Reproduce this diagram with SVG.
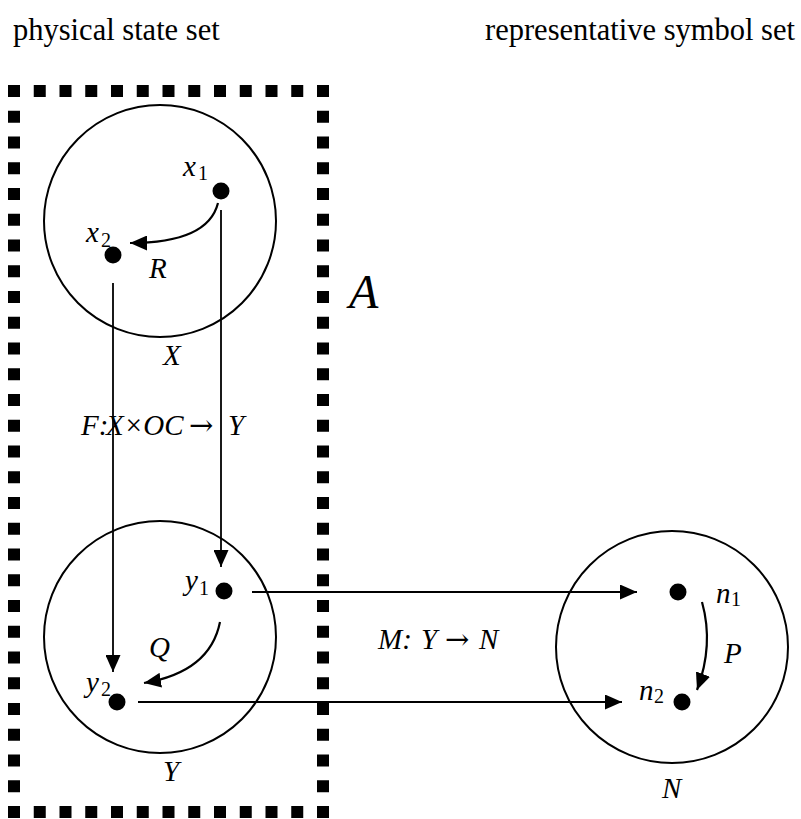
<svg xmlns="http://www.w3.org/2000/svg" width="801" height="819" viewBox="0 0 801 819">
  <style>
    .set { fill: none; stroke: #000; stroke-width: 2; }
    .dot { fill: #000; }
    .lbl { font-family: "Liberation Serif", serif; font-style: italic; font-size: 29px; fill: #000; }
    .big { font-size: 48px; }
    .sub { font-family: "Liberation Serif", serif; font-style: normal; font-size: 20px; fill: #000; }
    .head { font-family: "Liberation Serif", serif; font-size: 30.5px; fill: #000; }
    .arr { font-style: normal; font-family: "DejaVu Serif", serif; }
    .edge { fill: none; stroke: #000; stroke-width: 1.8; }
    .edge.thick { stroke-width: 2.2; }
  </style>
  <defs>
    <marker id="tip" markerUnits="userSpaceOnUse" markerWidth="17" markerHeight="15" refX="17" refY="7.5" orient="auto">
      <path d="M0,0 L17,7.5 L0,15 z" fill="#000"/>
    </marker>
  </defs>
  <rect width="801" height="819" fill="#fff"/>

  <!-- column headings -->
  <text class="head" x="13" y="40">physical state set</text>
  <text class="head" x="485" y="40">representative symbol set</text>

  <!-- region A: the physical subsystem boundary -->
  <g id="region-A">
    <rect x="14" y="91" width="309" height="721" fill="none" stroke="#000" stroke-width="12" stroke-dasharray="12 13.75" stroke-dashoffset="6"/>
    <text class="lbl big" x="349" y="308">A</text>
  </g>

  <!-- sets -->
  <g id="set-X">
    <circle class="set" cx="160" cy="221" r="116"/>
    <text class="lbl" x="163" y="365">X</text>
  </g>
  <g id="set-Y">
    <circle class="set" cx="160" cy="637" r="116"/>
    <text class="lbl" x="163" y="781">Y</text>
  </g>
  <g id="set-N">
    <circle class="set" cx="672" cy="647" r="116"/>
    <text class="lbl" x="662" y="798">N</text>
  </g>

  <!-- elements -->
  <g id="x1">
    <circle class="dot" cx="221" cy="191" r="8.5"/>
    <text class="lbl" x="183" y="176">x</text><text class="sub" x="198" y="180">1</text>
  </g>
  <g id="x2">
    <circle class="dot" cx="113" cy="255" r="8.5"/>
    <text class="lbl" x="86" y="242">x</text><text class="sub" x="101" y="247">2</text>
  </g>
  <g id="y1">
    <circle class="dot" cx="224" cy="591" r="8.5"/>
    <text class="lbl" x="185" y="590">y</text><text class="sub" x="199" y="595">1</text>
  </g>
  <g id="y2">
    <circle class="dot" cx="117" cy="702" r="8.5"/>
    <text class="lbl" x="86" y="692">y</text><text class="sub" x="101" y="696">2</text>
  </g>
  <g id="n1">
    <circle class="dot" cx="678" cy="592" r="8.5"/>
    <text class="lbl" x="716" y="603">n</text><text class="sub" x="731" y="606">1</text>
  </g>
  <g id="n2">
    <circle class="dot" cx="682" cy="702" r="8.5"/>
    <text class="lbl" x="639" y="700">n</text><text class="sub" x="654" y="703">2</text>
  </g>

  <!-- connectors -->
  <g id="connectors">
    <path class="edge" d="M221,210 L221,567" marker-end="url(#tip)"/>
    <path class="edge" d="M113,283 L113,672" marker-end="url(#tip)"/>
    <path class="edge thick" d="M252,592 L637,592" marker-end="url(#tip)"/>
    <path class="edge thick" d="M138,702 L622,702" marker-end="url(#tip)"/>
    <path class="edge thick" d="M218,203 Q208,243 130,243" marker-end="url(#tip)"/>
    <path class="edge thick" d="M220,622 Q210,672 144,683" marker-end="url(#tip)"/>
    <path class="edge thick" d="M702,602 Q714,645 697,690" marker-end="url(#tip)"/>

    <text class="lbl" x="149" y="278">R</text>
    <text class="lbl" x="149" y="657">Q</text>
    <text class="lbl" x="724" y="663">P</text>

    <text class="lbl" y="435"><tspan x="81">F:</tspan><tspan x="106">X×OC</tspan><tspan class="arr" x="189">→</tspan><tspan x="228">Y</tspan></text>
    <text class="lbl" y="649"><tspan x="378">M:</tspan><tspan x="421">Y</tspan><tspan class="arr" x="445">→</tspan><tspan x="479">N</tspan></text>
  </g>
</svg>
